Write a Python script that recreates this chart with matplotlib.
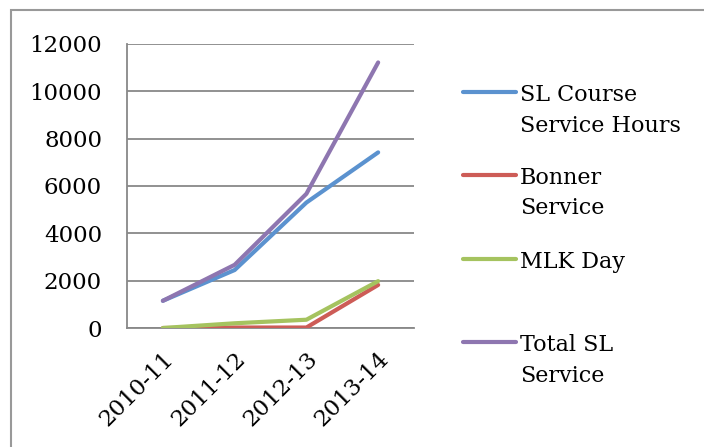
import matplotlib.pyplot as plt
from matplotlib.lines import Line2D
from matplotlib.patches import Rectangle

# Service hours by academic year
years = ['2010-11', '2011-12', '2012-13', '2013-14']
sl_course = [1150, 2450, 5300, 7420]
bonner = [0, 20, 20, 1820]
mlk_day = [0, 200, 350, 1980]
total_sl = [1150, 2670, 5670, 11220]

labels = ['SL Course\nService Hours', 'Bonner\nService', 'MLK Day', 'Total SL\nService']
colors = ['#5B92CF', '#CD5C57', '#A5C35F', '#8E76B0']


def lineChart():

    plt.rcParams['font.family'] = ['DejaVu Serif']

    fig = plt.figure(figsize=(7.04, 4.47), dpi=100)
    ax = fig.add_axes([0.1804, 0.2662, 0.4077, 0.6354])

    x = range(len(years))
    for values, color in zip([sl_course, bonner, mlk_day, total_sl], colors):
        ax.plot(x, values, color=color, lw=3.0, solid_capstyle='round',
                solid_joinstyle='round', zorder=3)

    ax.set_xlim(-0.5, len(years) - 0.5)
    ax.set_ylim(0, 12000)
    ax.set_yticks(range(0, 12001, 2000))
    ax.set_xticks(list(x))
    ax.set_xticklabels(years, rotation=45, ha='right', va='top', rotation_mode='anchor')
    ax.yaxis.grid(True, color='#888888', lw=1.3)
    ax.set_axisbelow(True)
    ax.tick_params(axis='both', length=0, labelsize=16.5, colors='black')
    ax.tick_params(axis='y', pad=18)
    ax.tick_params(axis='x', pad=14)
    for side in ['top', 'right']:
        ax.spines[side].set_visible(False)
    for side in ['left', 'bottom']:
        ax.spines[side].set_color('#888888')
        ax.spines[side].set_linewidth(1.3)

    # legend drawn by hand so the handle sits on the first text line
    W, H = 704.0, 447.0
    handle_y = [92, 175, 259, 342]
    for label, color, hy in zip(labels, colors, handle_y):
        fig.add_artist(Line2D([463 / W, 516 / W], [1 - hy / H, 1 - hy / H],
                              color=color, lw=3.0, solid_capstyle='round'))
        fig.text(520 / W, 1 - (hy - 8) / H, label, fontsize=16,
                 va='top', ha='left', linespacing=1.5)

    # chart frame
    fig.add_artist(Rectangle((11 / W, -0.1), 1.0, 1.1 - 10 / H, fill=False,
                             edgecolor='#999999', lw=1.5))

    fig.savefig('out.png', dpi=100)


if __name__ == "__main__":
    lineChart()
